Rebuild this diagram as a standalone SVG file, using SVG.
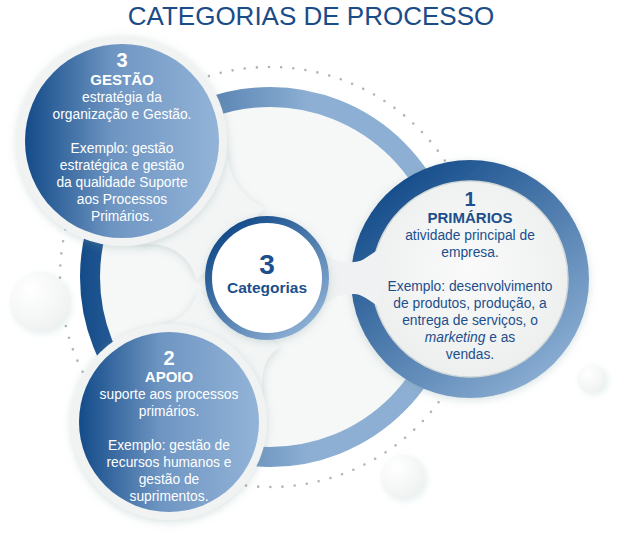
<svg xmlns="http://www.w3.org/2000/svg" width="624" height="556" viewBox="0 0 624 556">
<defs>
<style>
.t{font-family:"Liberation Sans",Arial,sans-serif;text-anchor:middle}
.w{fill:#ffffff}
.b{fill:#1c4f8b}
.body{font-size:13.8px}
.hd{font-size:15px;font-weight:bold}
.num{font-size:20px;font-weight:bold}
</style>
<linearGradient id="gRing" gradientUnits="userSpaceOnUse" x1="80" y1="0" x2="310" y2="0">
<stop offset="0" stop-color="#134b89"/><stop offset="1" stop-color="#8dafd3"/>
</linearGradient>
<linearGradient id="gFill" x1="0" y1="0" x2="1" y2="0">
<stop offset="0" stop-color="#134b89"/><stop offset="0.45" stop-color="#6e95c2"/><stop offset="1" stop-color="#93b4d8"/>
</linearGradient>
<linearGradient id="gDiag" x1="0.15" y1="0.1" x2="0.85" y2="0.95">
<stop offset="0" stop-color="#144c8a"/><stop offset="1" stop-color="#8fb1d5"/>
</linearGradient>
<radialGradient id="gSph" cx="0.35" cy="0.3" r="0.8">
<stop offset="0" stop-color="#ffffff"/><stop offset="1" stop-color="#eef0f0"/>
</radialGradient>
<radialGradient id="gIn" cx="0.5" cy="0.45" r="0.6">
<stop offset="0" stop-color="#fafafa"/><stop offset="1" stop-color="#eceeee"/>
</radialGradient>
<filter id="sh" x="-30%" y="-30%" width="160%" height="160%">
<feDropShadow dx="0" dy="2" stdDeviation="4" flood-color="#7a9c9c" flood-opacity="0.3"/>
</filter>
<filter id="shs" x="-50%" y="-50%" width="200%" height="200%">
<feDropShadow dx="2" dy="2" stdDeviation="3" flood-color="#a9caca" flood-opacity="0.3"/>
</filter>
</defs>
<rect width="624" height="556" fill="#ffffff"/>
<text class="t" x="311" y="25" font-size="26" fill="#1a4c88">CATEGORIAS DE PROCESSO</text>

<g id="background">
<circle cx="270" cy="277" r="210" fill="none" stroke="#b3b3b3" stroke-width="2.6" stroke-linecap="round" stroke-dasharray="0 12.2"/>
<circle cx="40" cy="302" r="30" fill="url(#gSph)" filter="url(#shs)"/>
<circle cx="592" cy="379" r="14" fill="url(#gSph)" filter="url(#shs)"/>
<circle cx="403" cy="477" r="22" fill="url(#gSph)" filter="url(#shs)"/>
<circle cx="270" cy="277" r="172" fill="#f6f7f7"/>
<circle cx="270" cy="277" r="180" fill="none" stroke="url(#gRing)" stroke-width="20"/>
</g>

<g id="connectors">
<path d="M265,208 Q228,192 227,147 L134,245 Q184,238 197,280 Z" fill="#f3f5f5" filter="url(#sh)"/>
<path d="M198,291 Q188,322 159,325 L263,395 Q258,360 280,347 Z" fill="#f3f5f5" filter="url(#sh)"/>
</g>

<g id="primarios">
<circle cx="470" cy="279" r="119" fill="url(#gDiag)" filter="url(#sh)"/>
<circle cx="470" cy="279" r="98" fill="url(#gIn)" stroke="#cfd6d6" stroke-width="1.5"/>
<path d="M318,247 C332,262 342,263 354,262 C362,262 368,256 378,250 L380,250 L380,306 L378,306 C368,300 362,294 354,294 C342,294 332,296 318,311 Z" fill="#eff1f2"/>
<text class="t b num" x="470" y="206">1</text>
<text class="t b hd" x="470" y="223">PRIMÁRIOS</text>
<text class="t b body" x="470" y="240">atividade principal de</text>
<text class="t b body" x="470" y="257">empresa.</text>
<text class="t b body" x="470" y="291">Exemplo: desenvolvimento</text>
<text class="t b body" x="470" y="308">de produtos, produção, a</text>
<text class="t b body" x="470" y="325">entrega de serviços, o</text>
<text class="t b body" x="470" y="342"><tspan font-style="italic">marketing</tspan> e as</text>
<text class="t b body" x="470" y="359">vendas.</text>
</g>

<g id="central">
<circle cx="267" cy="278" r="62" fill="#ffffff" filter="url(#sh)"/>
<circle cx="267" cy="278" r="58.5" fill="#ffffff" stroke="url(#gDiag)" stroke-width="7"/>
<text class="t b" x="267" y="274" font-size="28" font-weight="bold">3</text>
<text class="t b" x="267" y="293" font-size="15.5" font-weight="bold">Categorias</text>
</g>

<g id="gestao">
<circle cx="122" cy="141" r="105" fill="#f1f3f3" filter="url(#sh)"/>
<circle cx="122" cy="141" r="97" fill="url(#gFill)"/>
<text class="t w num" x="122" y="67">3</text>
<text class="t w hd" x="122" y="85">GESTÃO</text>
<text class="t w body" x="122" y="102">estratégia da</text>
<text class="t w body" x="122" y="119">organização e Gestão.</text>
<text class="t w body" x="122" y="153">Exemplo: gestão</text>
<text class="t w body" x="122" y="170">estratégica e gestão</text>
<text class="t w body" x="122" y="187">da qualidade Suporte</text>
<text class="t w body" x="122" y="204">aos Processos</text>
<text class="t w body" x="122" y="221">Primários.</text>
</g>

<g id="apoio">
<circle cx="169" cy="422" r="98" fill="#f1f3f3" filter="url(#sh)"/>
<circle cx="169" cy="422" r="90" fill="url(#gFill)"/>
<text class="t w num" x="169" y="365">2</text>
<text class="t w hd" x="169" y="382">APOIO</text>
<text class="t w body" x="169" y="399">suporte aos processos</text>
<text class="t w body" x="169" y="416">primários.</text>
<text class="t w body" x="169" y="450">Exemplo: gestão de</text>
<text class="t w body" x="169" y="467">recursos humanos e</text>
<text class="t w body" x="169" y="484">gestão de</text>
<text class="t w body" x="169" y="501">suprimentos.</text>
</g>
</svg>
